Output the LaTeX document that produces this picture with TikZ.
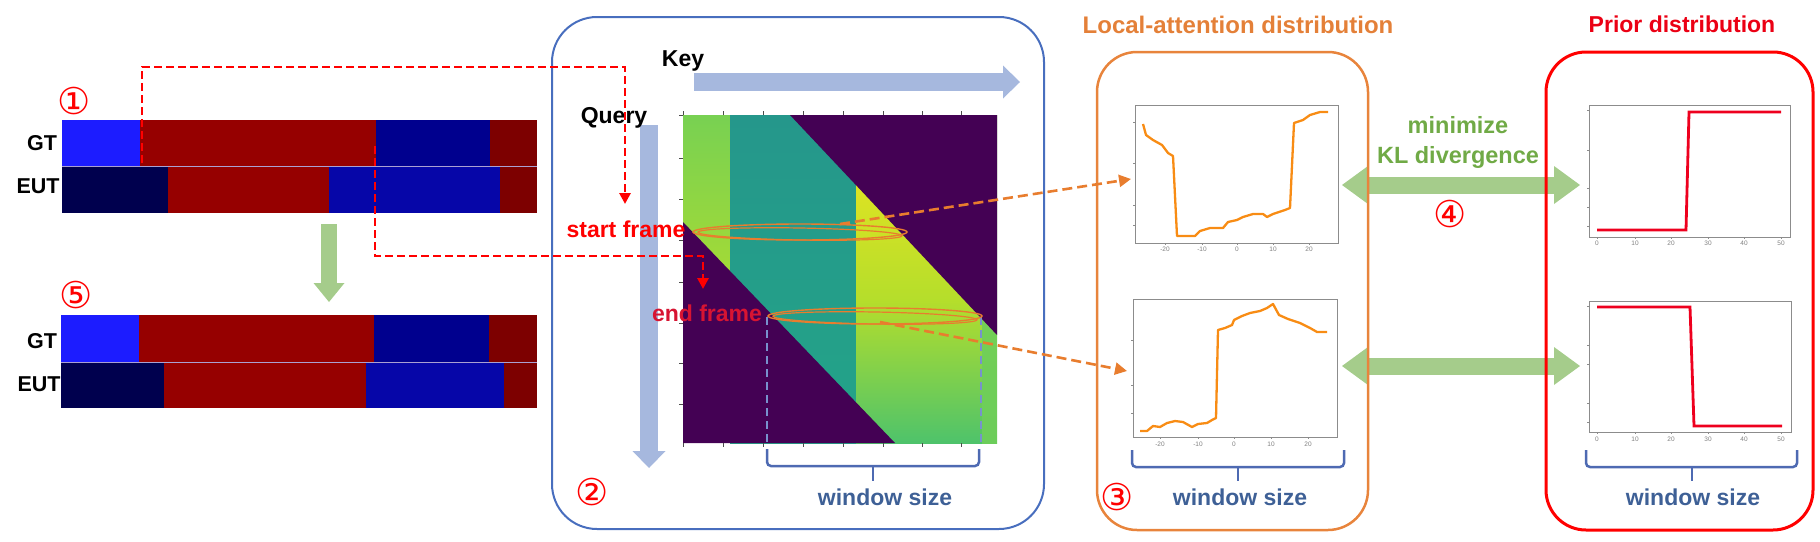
\documentclass[tikz,border=0pt]{standalone}
\usepackage{fontspec}
\setmainfont{Liberation Sans}
\newfontfamily\symf{DejaVu Sans}
\usetikzlibrary{arrows.meta,calc}
\newcommand\myfs[1]{\fontsize{#1}{#1}\selectfont}
\definecolor{barLB}{RGB}{28,28,255}
\definecolor{barR}{RGB}{150,0,0}
\definecolor{barNB}{RGB}{0,0,142}
\definecolor{barRR}{RGB}{125,0,0}
\definecolor{barNV}{RGB}{0,0,78}
\definecolor{barEB}{RGB}{6,6,168}
\definecolor{sepc}{RGB}{170,160,210}
\definecolor{keyblue}{RGB}{166,184,222}
\definecolor{grn}{RGB}{165,204,139}
\definecolor{boxblue}{RGB}{72,110,190}
\definecolor{boxor}{RGB}{232,132,60}
\definecolor{titor}{RGB}{228,128,56}
\definecolor{titred}{RGB}{235,0,20}
\definecolor{kltxt}{RGB}{112,170,70}
\definecolor{wstxt}{RGB}{62,96,150}
\definecolor{brc}{RGB}{78,106,178}
\definecolor{endred}{RGB}{215,20,50}
\definecolor{ellor}{RGB}{232,125,46}
\definecolor{dashblue}{RGB}{120,145,205}
\definecolor{vdark}{HTML}{440154}
\definecolor{vteal}{HTML}{25978B}
\definecolor{vteal2}{HTML}{23A488}
\definecolor{vyel}{HTML}{F4E61E}
\definecolor{vyg}{HTML}{B5DE2B}
\definecolor{vgr}{HTML}{4EC36B}
\definecolor{vlg}{HTML}{7FD34E}
\definecolor{vlg2}{HTML}{6CCD5A}
\definecolor{vA1}{HTML}{78D152}
\definecolor{vA2}{HTML}{E0E419}
\definecolor{vA3}{HTML}{A2DA37}
\definecolor{lcurve}{RGB}{248,140,20}
\definecolor{pcurve}{RGB}{238,0,30}
\definecolor{frame}{RGB}{140,140,140}
\begin{document}
\begin{tikzpicture}[x=1pt,y=-1pt,
  lbl/.style={inner sep=0pt, anchor=base, font=\bfseries\myfs{23}},
  rowlbl/.style={inner sep=0pt, anchor=base, font=\bfseries\myfs{21.5}},
  circnum/.style={inner sep=0pt, text=red, font=\symf\myfs{37}},
  wbrace/.style={draw=brc, line width=2.5pt, rounded corners=4pt},
  reddash/.style={draw=red, line width=2.8pt, dash pattern=on 8pt off 4pt, -{Triangle[length=11pt,width=11pt]}},
  ordash/.style={draw=ellor, line width=2.6pt, dash pattern=on 10pt off 5pt, -{Triangle[length=12pt,width=12pt]}},
  plotframe/.style={draw=frame, line width=0.7pt, inner sep=0pt},
  ticklbl/.style={inner sep=0pt, text=gray, font=\myfs{6.5}},
  klarrow/.style={draw=grn, line width=17pt, {Triangle[length=26pt,width=38pt,line width=0pt]}-{Triangle[length=26pt,width=38pt,line width=0pt]}},
  fatarrow/.style={draw=keyblue, line width=18pt, -{Triangle[length=17pt,width=33pt,line width=0pt]}}
]
\useasboundingbox (0,0) rectangle (1820,541);

% ---------- big arrows (behind) ----------
\coordinate (dnA) at (329,224);
\coordinate (dnB) at (329,302);
\draw[draw=grn, line width=16pt, -{Triangle[length=19pt,width=31pt,line width=0pt]}] (dnA) -- (dnB);
\coordinate (keyA) at (694,82);
\coordinate (keyB) at (1020,82);
\draw[fatarrow] (keyA) -- (keyB);
\coordinate (qA) at (649,125);
\coordinate (qB) at (649,468);
\draw[fatarrow] (qA) -- (qB);
\coordinate (kl1a) at (1342,185);
\coordinate (kl1b) at (1580,185);
\coordinate (kl2a) at (1342,366);
\coordinate (kl2b) at (1580,366);
\draw[klarrow] (kl1a) -- (kl1b);
\draw[klarrow] (kl2a) -- (kl2b);

% ---------- bars, block 1 ----------
\fill[barLB] (62,120) rectangle (140,166);
\fill[barR] (140,120) rectangle (376,166);
\fill[barNB] (376,120) rectangle (490,166);
\fill[barRR] (490,120) rectangle (537,166);
\fill[barNV] (62,166) rectangle (168,213);
\fill[barR] (168,166) rectangle (329,213);
\fill[barEB] (329,166) rectangle (500,213);
\fill[barRR] (500,166) rectangle (537,213);
\draw[sepc, line width=0.8pt] (62,166) -- (537,166);
% ---------- bars, block 2 ----------
\fill[barLB] (61,315) rectangle (139,362);
\fill[barR] (139,315) rectangle (374,362);
\fill[barNB] (374,315) rectangle (489,362);
\fill[barRR] (489,315) rectangle (537,362);
\fill[barNV] (61,362) rectangle (164,408);
\fill[barR] (164,362) rectangle (366,408);
\fill[barEB] (366,362) rectangle (504,408);
\fill[barRR] (504,362) rectangle (537,408);
\draw[sepc, line width=0.8pt] (61,362) -- (537,362);

\node[rowlbl] (gt1) at (42,150) {GT};
\node[rowlbl] (eut1) at (38,193) {EUT};
\node[rowlbl] (gt2) at (42,348) {GT};
\node[rowlbl] (eut2) at (39,391) {EUT};
\node[circnum] (c1) at (74,101) {①};
\node[circnum] (c5) at (76,295) {⑤};

% ---------- boxes ----------
\draw[boxblue, line width=2pt, rounded corners=45pt] (552,17) rectangle (1044,529);
\draw[boxor, line width=2.5pt, rounded corners=40pt] (1097,52) rectangle (1368,530);
\draw[red, line width=3pt, rounded corners=40pt] (1546,52) rectangle (1813,530);

% ---------- heatmap ----------
\begin{scope}
\clip (683,115) rectangle (997,443);
\shade[top color=vA1, middle color=vA2, bottom color=vA3] (683,115) rectangle (730,270);
\shade[top color=vteal, bottom color=vteal2] (730,115) rectangle (856,443);
\shade[top color=vyel, bottom color=vyg] (856,115) rectangle (982,300);
\shade[top color=vyg, bottom color=vgr] (856,300) rectangle (982,443);
\shade[top color=vlg, bottom color=vlg2] (982,115) rectangle (997,443);
\fill[vdark] (790,115) -- (997,115) -- (997,335) -- cycle;
\fill[vdark] (683,222) -- (683,443) -- (895,443) -- cycle;
\end{scope}
\foreach \yy in {115,158,199,240,282,323,363,404} \draw[black!70, line width=0.7pt] (683,\yy) -- (679,\yy);
\foreach \xx in {683,723,763,803,843,883,922,961} {
  \draw[black!70, line width=0.7pt] (\xx,443) -- (\xx,447);
  \draw[black!70, line width=0.7pt] (\xx,115) -- (\xx,111);
}
\node[inner sep=0pt, minimum width=314pt, minimum height=328pt] (heat) at (840,279) {};

% window-size dashed guides and ellipses
\draw[dashblue, line width=2pt, dash pattern=on 8pt off 5pt] (767,317) -- (767,444);
\draw[dashblue, line width=2pt, dash pattern=on 8pt off 5pt] (981,317) -- (981,444);
\draw[ellor, line width=1.4pt] (800,232) ellipse [x radius=107, y radius=8];
\draw[ellor, line width=1.2pt, rotate around={-1:(800,234)}] (800,234) ellipse [x radius=102, y radius=6];
\draw[ellor, line width=1.4pt] (875,316) ellipse [x radius=107, y radius=8];
\draw[ellor, line width=1.2pt, rotate around={-1:(875,318)}] (875,318) ellipse [x radius=102, y radius=6];
\coordinate (sEll) at (840,224);
\coordinate (eEll) at (880,322);

% braces
\draw[wbrace] (767,449) -- (767,466) -- (979,466) -- (979,449);
\draw[wbrace] (873,466) -- (873,481);
\draw[wbrace] (1132,450) -- (1132,467) -- (1344,467) -- (1344,450);
\draw[wbrace] (1238,467) -- (1238,481);
\draw[wbrace] (1586,450) -- (1586,467) -- (1797,467) -- (1797,450);
\draw[wbrace] (1692,467) -- (1692,481);

% ---------- local attention plots ----------
\node[plotframe, minimum width=203pt, minimum height=138pt] (lt) at (1236.5,174) {};
\node[plotframe, minimum width=204pt, minimum height=138pt] (lb) at (1235,368) {};
\draw[lcurve, line width=2.3pt, line join=round] (1143,124) -- (1146,135) -- (1153,140) -- (1162,145) -- (1168,153) -- (1173,156) -- (1177,236) -- (1195,236) -- (1200,231) -- (1210,228) -- (1223,228) -- (1228,222) -- (1237,220) -- (1243,217) -- (1253,214) -- (1263,214) -- (1267,217) -- (1273,214) -- (1285,210) -- (1290,208) -- (1294,123) -- (1303,120) -- (1310,115) -- (1320,112) -- (1328,112);
\draw[lcurve, line width=2.3pt, line join=round] (1140,431) -- (1147,431) -- (1153,426) -- (1160,427) -- (1167,423) -- (1175,421) -- (1183,422) -- (1192,427) -- (1198,424) -- (1207,423) -- (1212,420) -- (1216,418) -- (1218,330) -- (1225,328) -- (1232,325) -- (1234,320) -- (1242,316) -- (1250,313) -- (1260,311) -- (1267,308) -- (1273,304) -- (1279,315) -- (1288,319) -- (1300,323) -- (1310,328) -- (1317,332) -- (1327,332);
\foreach \xx/\t in {1165/-20,1202/-10,1237/0,1273/10,1309/20} {
  \draw[frame, line width=0.6pt] (\xx,243) -- (\xx,245);
  \node[ticklbl] at (\xx,249) {\t};
}
\foreach \xx/\t in {1160/-20,1198/-10,1234/0,1271/10,1308/20} {
  \draw[frame, line width=0.6pt] (\xx,437) -- (\xx,439);
  \node[ticklbl] at (\xx,444) {\t};
}
\foreach \yy in {122,163,205,225} \draw[frame, line width=0.6pt] (1135,\yy) -- (1133,\yy);
\foreach \yy in {340,385,413} \draw[frame, line width=0.6pt] (1133,\yy) -- (1131,\yy);

% ---------- prior plots ----------
\node[plotframe, minimum width=201pt, minimum height=132pt] (pt) at (1689.5,171) {};
\node[plotframe, minimum width=202pt, minimum height=131pt] (pb) at (1690,366.5) {};
\draw[pcurve, line width=2.8pt] (1597,230) -- (1686,230) -- (1689,112) -- (1781,112);
\draw[pcurve, line width=2.8pt] (1597,307) -- (1690,307) -- (1694,426) -- (1782,426);
\foreach \xx/\t in {1597/0,1635/10,1671/20,1708/30,1744/40,1781/50} {
  \draw[frame, line width=0.6pt] (\xx,237) -- (\xx,239);
  \node[ticklbl] at (\xx,243) {\t};
  \draw[frame, line width=0.6pt] (\xx,432) -- (\xx,434);
  \node[ticklbl] at (\xx,439) {\t};
}
\foreach \yy in {110,150,188,207,226} \draw[frame, line width=0.6pt] (1589,\yy) -- (1587,\yy);
\foreach \yy in {306,345,364,403,422} \draw[frame, line width=0.6pt] (1589,\yy) -- (1587,\yy);

% ---------- texts ----------
\node[lbl] (key) at (683,66) {Key};
\node[lbl] (query) at (614,123) {Query};
\node[lbl, text=red] (sf) at (626,237) {start frame};
\node[lbl, text=endred] (ef) at (707,321.5) {end frame};
\node[lbl, text=wstxt] (ws1) at (885,505) {window size};
\node[lbl, text=wstxt] (ws2) at (1240,505) {window size};
\node[lbl, text=wstxt] (ws3) at (1693,505) {window size};
\node[lbl, text=titor, font=\bfseries\myfs{24}] (tloc) at (1238,33) {Local-attention distribution};
\node[lbl, text=titred] (tpri) at (1682,32) {Prior distribution};
\node[lbl, text=kltxt, font=\bfseries\myfs{23.5}] (mini) at (1458,133) {minimize};
\node[lbl, text=kltxt, font=\bfseries\myfs{23.5}] (kld) at (1458,163) {KL divergence};
\node[circnum] (c2) at (592,492) {②};
\node[circnum] (c3) at (1117,497) {③};
\node[circnum] (c4) at (1450,214) {④};

% ---------- dashed connectors ----------
\coordinate (gtA) at (142,163);
\coordinate (sfT) at (625,204);
\coordinate (gtB) at (375,146);
\coordinate (efT) at (703,289);
\draw[reddash] (gtA) -- (142,67) -- (625,67) -- (sfT);
\draw[reddash] (gtB) -- (375,256) -- (703,256) -- (efT);
\coordinate (ltIn) at (1131,179);
\coordinate (lbIn) at (1127,371);
\draw[ordash] (sEll) -- (ltIn);
\draw[ordash] (eEll) -- (lbIn);
\end{tikzpicture}
\end{document}
